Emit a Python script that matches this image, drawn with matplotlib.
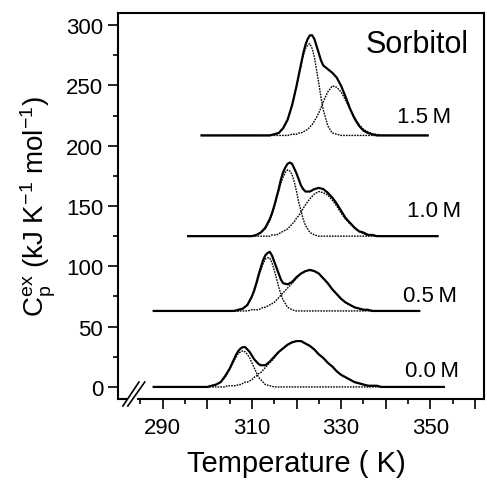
import matplotlib
matplotlib.use('Agg')
import matplotlib.pyplot as plt

plt.rcParams['font.family'] = ['Liberation Sans', 'DejaVu Sans']
plt.rcParams['mathtext.fontset'] = 'custom'
plt.rcParams['mathtext.rm'] = 'Liberation Sans'
plt.rcParams['mathtext.it'] = 'Liberation Sans:italic'

# ---- data (excess heat capacity above each curve's baseline, kJ/K/mol) ----
concentrations = ['0.0 M', '0.5 M', '1.0 M', '1.5 M']
baselines = [0, 63, 125, 208.5]

temp_00 = [288, 298, 299, 300, 301, 302, 303, 304, 304.5, 305, 305.5, 306, 306.5, 307, 307.5, 308,
           308.5, 309, 309.5, 310, 310.5, 311, 311.5, 312, 313, 314, 315, 316, 317, 318, 319, 320,
           321, 322, 323, 324, 325, 326, 327, 328, 329, 330, 331, 332, 333, 334, 335, 336, 337, 338,
           339, 340, 353]
total_00 = [0, 0, 0, 0, 1, 2, 4, 9, 12, 15, 19, 23, 27, 30, 32, 33, 33, 31, 29, 26, 23, 21, 19, 18,
            18, 21, 25, 29, 32, 35, 37, 38, 38, 36, 34, 31, 27, 24, 20, 17, 13, 10, 8, 6, 4, 3, 2, 1,
            1, 1, 0, 0, 0]
peak1_00 = [0, 0, 0, 0, 1, 2, 4, 8, 11, 15, 18, 22, 25, 28, 29, 30, 29, 27, 24, 20, 16, 12, 8, 6,
            2, 1, 0, 0, 0, 0, 0, 0, 0, 0, 0, 0, 0, 0, 0, 0, 0, 0, 0, 0, 0, 0, 0, 0, 0, 0, 0, 0, 0]
peak2_00 = [0, 0, 0, 0, 0, 0, 0, 0, 1, 1, 1, 1, 1, 2, 2, 3, 4, 4, 5, 6, 8, 9, 11, 12, 16, 20, 24, 29,
            32, 35, 37, 38, 38, 36, 34, 31, 27, 24, 20, 17, 13, 10, 8, 6, 4, 3, 2, 1, 1, 1, 0, 0, 0]

temp_05 = [288, 302, 303, 304, 305, 306, 307, 308, 309, 310, 310.5, 311, 311.5, 312, 312.5, 313,
           313.5, 314, 314.5, 315, 315.5, 316, 316.5, 317, 318, 319, 320, 321, 322, 323, 324, 325,
           326, 327, 328, 329, 330, 331, 332, 333, 334, 335, 336, 337, 347.5]
total_05 = [0, 0, 0, 0, 0, 0, 1, 2, 5, 12, 17, 23, 30, 36, 42, 46, 48, 49, 46, 41, 36, 31, 26, 23,
            22, 24, 28, 31, 33, 34, 33, 31, 27, 23, 18, 14, 10, 7, 5, 3, 2, 1, 1, 0, 0]
peak1_05 = [0, 0, 0, 0, 0, 0, 0, 2, 5, 12, 16, 22, 28, 34, 39, 43, 44, 44, 40, 34, 27, 20, 14, 9,
            3, 1, 0, 0, 0, 0, 0, 0, 0, 0, 0, 0, 0, 0, 0, 0, 0, 0, 0, 0, 0]
peak2_05 = [0, 0, 0, 0, 0, 0, 0, 0, 0, 1, 1, 1, 1, 2, 3, 3, 4, 5, 6, 7, 9, 11, 13, 15, 19, 23, 27,
            31, 33, 34, 33, 31, 27, 23, 18, 14, 10, 7, 5, 3, 2, 1, 1, 0, 0]

temp_10 = [295.7, 306, 307, 308, 309, 310, 311, 312, 313, 314, 314.5, 315, 315.5, 316, 316.5, 317,
           317.5, 318, 318.5, 319, 319.5, 320, 320.5, 321, 321.5, 322, 323, 324, 325, 326, 327, 328,
           329, 330, 331, 332, 333, 334, 335, 336, 337, 338, 339, 340, 351.6]
total_10 = [0, 0, 0, 0, 0, 0, 1, 3, 7, 14, 19, 25, 32, 39, 47, 53, 57, 60, 61, 60, 56, 52, 47, 42,
            39, 37, 37, 39, 40, 39, 36, 32, 27, 21, 15, 11, 7, 4, 3, 1, 1, 0, 0, 0, 0]
peak1_10 = [0, 0, 0, 0, 0, 0, 1, 3, 6, 13, 18, 24, 31, 37, 44, 49, 53, 55, 54, 51, 45, 37, 28, 21,
            14, 9, 3, 1, 0, 0, 0, 0, 0, 0, 0, 0, 0, 0, 0, 0, 0, 0, 0, 0, 0]
peak2_10 = [0, 0, 0, 0, 0, 0, 0, 0, 0, 0, 1, 1, 1, 2, 3, 4, 5, 6, 8, 10, 12, 15, 17, 20, 23, 26, 31,
            35, 37, 36, 34, 30, 25, 19, 14, 10, 7, 4, 2, 1, 1, 0, 0, 0, 0]

temp_15 = [298.7, 311, 312, 313, 314, 315, 316, 317, 318, 319, 319.5, 320, 320.5, 321, 321.5, 322,
           322.5, 323, 323.5, 324, 324.5, 325, 325.5, 326, 327, 328, 329, 330, 331, 332, 333, 334,
           335, 336, 337, 338, 339, 340, 341, 342, 349.4]
total_15 = [0, 0, 0, 0, 0, 1, 2, 6, 13, 25, 33, 41, 50, 59, 68, 75, 80, 83, 83, 80, 74, 68, 62, 58,
            55, 52, 48, 41, 32, 22, 14, 8, 4, 2, 1, 0, 0, 0, 0, 0, 0]
peak1_15 = [0, 0, 0, 0, 0, 1, 2, 6, 13, 25, 32, 41, 50, 58, 66, 72, 75, 76, 72, 65, 54, 43, 31, 21,
            8, 2, 1, 0, 0, 0, 0, 0, 0, 0, 0, 0, 0, 0, 0, 0, 0]
peak2_15 = [0, 0, 0, 0, 0, 0, 0, 0, 0, 1, 1, 1, 2, 2, 3, 4, 5, 7, 9, 12, 15, 19, 23, 28, 36, 41, 40,
            36, 29, 22, 15, 9, 5, 3, 1, 1, 0, 0, 0, 0, 0]

temps = [temp_00, temp_05, temp_10, temp_15]
totals = [total_00, total_05, total_10, total_15]
peak1s = [peak1_00, peak1_05, peak1_10, peak1_15]
peak2s = [peak2_00, peak2_05, peak2_10, peak2_15]

label_pos = [(344.2, 13.5), (343.9, 75.7), (344.8, 146.2), (342.6, 224)]

x_major = [290, 300, 310, 320, 330, 340, 350, 360]
x_major_labels = ['290', '', '310', '', '330', '', '350', '']
x_minor = [285, 295, 305, 315, 325, 335, 345, 355]
y_major = [0, 50, 100, 150, 200, 250, 300]
y_minor = [25, 75, 125, 175, 225, 275]

# ---- figure ----
fig = plt.figure(figsize=(4.87, 4.81), dpi=100)
ax = fig.add_axes([0.2423, 0.1684, 0.7515, 0.8025])

dot = (0, (1.2, 0.8))
for T, tot, p1, p2, base in zip(temps, totals, peak1s, peak2s, baselines):
    ax.plot(T, [base + v for v in p1], color='k', lw=1.0, ls=dot)
    ax.plot(T, [base + v for v in p2], color='k', lw=1.0, ls=dot)
    ax.plot(T, [base + v for v in tot], color='k', lw=1.6)

for lab, (x, y) in zip(concentrations, label_pos):
    ax.text(x, y, lab.replace(' ', '\u2009'), fontsize=16, ha='left', va='center')
ax.text(335.4, 284.2, 'Sorbitol', fontsize=22, ha='left', va='center')

ax.set_xlim(280, 362)
ax.set_ylim(-10, 310)
ax.set_xticks(x_major)
ax.set_xticklabels(x_major_labels)
ax.set_xticks(x_minor, minor=True)
ax.set_yticks(y_major)
ax.set_yticks(y_minor, minor=True)
ax.tick_params(which='major', length=7.2, width=1.2, labelsize=16, direction='out')
ax.tick_params(which='minor', length=3.6, width=1.2, direction='out')
ax.tick_params(axis='y', pad=3.5)
ax.tick_params(axis='x', pad=6)
for s in ax.spines.values():
    s.set_linewidth(1.5)

# broken x axis
ax.spines['bottom'].set_bounds(284.5, 362)
ax.plot([280, 282], [-10, -10], color='k', lw=1.5, clip_on=False, solid_capstyle='butt')
ax.plot([281.1, 284.7], [-15.8, 4.1], color='k', lw=1.2, clip_on=False)
ax.plot([282.2, 286.0], [-15.8, 4.1], color='k', lw=1.2, clip_on=False)

ax.set_xlabel('Temperature ( K)', fontsize=21)
ax.xaxis.set_label_coords(0.488, -0.129)
ax.set_ylabel(r'$\mathrm{C_p^{ex}}$ (kJ K$^{-1}$ mol$^{-1}$)', fontsize=20)
ax.yaxis.set_label_coords(-0.165, 0.5)

fig.savefig('out.png', dpi=100)
